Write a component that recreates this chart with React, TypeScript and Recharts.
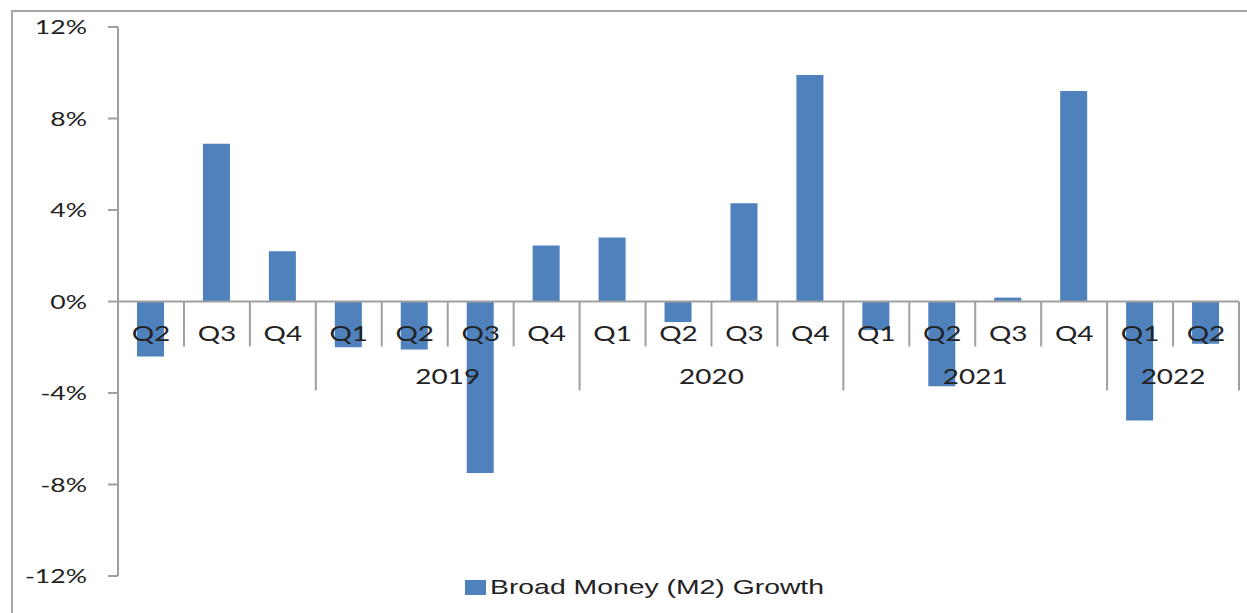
import React from "react";
import { BarChart, Bar, XAxis, YAxis, ReferenceLine, Legend } from "recharts";

const quarters = ["Q2", "Q3", "Q4", "Q1", "Q2", "Q3", "Q4", "Q1", "Q2", "Q3", "Q4", "Q1", "Q2", "Q3", "Q4", "Q1", "Q2"];
const periodYears = [2018, 2018, 2018, 2019, 2019, 2019, 2019, 2020, 2020, 2020, 2020, 2021, 2021, 2021, 2021, 2022, 2022];
const shownYears = [2019, 2020, 2021, 2022];
const m2Growth = [-2.4, 6.9, 2.2, -2.0, -2.1, -7.5, 2.45, 2.8, -0.9, 4.3, 9.9, -1.25, -3.7, 0.17, 9.2, -5.2, -1.85];
const yTicks = [-12, -8, -4, 0, 4, 8, 12];
const seriesName = "Broad Money (M2) Growth";

const data = quarters.map((q, i) => ({ key: `${periodYears[i]}-${q}`, value: m2Growth[i] }));

const AXIS = "#a0a0a0";
const BAR = "#4f81bd";
const TEXT = "#222222";
const STRETCH = 1.33;

function YTick(props: any) {
  const { x, y, payload } = props;
  return (
    <text
      transform={`translate(${x},${y}) scale(${STRETCH},1)`}
      textAnchor="end"
      dy="0.35em"
      fontFamily="Lato"
      fontSize={20}
      fill={TEXT}
    >
      {`${payload.value}%`}
    </text>
  );
}

// draws the category axis (quarters + years) hanging off the zero line
function CategoryAxis(props: any) {
  const { x, y, width } = props.viewBox;
  const band = width / quarters.length;
  const marks: React.ReactNode[] = [];

  for (let i = 1; i <= quarters.length; i++) {
    const isYearEdge = i === quarters.length || periodYears[i] !== periodYears[i - 1];
    const bx = x + i * band;
    marks.push(
      <line key={`t${i}`} x1={bx} x2={bx} y1={y} y2={y + (isYearEdge ? 89 : 45)} stroke={AXIS} strokeWidth={2} />
    );
  }

  quarters.forEach((q, i) => {
    marks.push(
      <text
        key={`q${i}`}
        transform={`translate(${x + (i + 0.5) * band},${y + 39}) scale(${STRETCH},1)`}
        textAnchor="middle"
        fontFamily="Lato"
        fontSize={21}
        fill={TEXT}
      >
        {q}
      </text>
    );
  });

  shownYears.forEach((yr) => {
    const first = periodYears.indexOf(yr);
    const last = periodYears.lastIndexOf(yr);
    const cx = x + ((first + last + 1) / 2) * band;
    marks.push(
      <text
        key={`y${yr}`}
        transform={`translate(${cx},${y + 82}) scale(${STRETCH},1)`}
        textAnchor="middle"
        fontFamily="Lato"
        fontSize={21}
        fill={TEXT}
      >
        {yr}
      </text>
    );
  });

  return <g>{marks}</g>;
}

function LegendContent() {
  return (
    <div style={{ position: "relative", height: 30 }}>
      <div style={{ position: "absolute", left: 465, top: 4, width: 21, height: 15, background: BAR }} />
      <div
        style={{
          position: "absolute",
          left: 490,
          top: -1,
          fontFamily: "Liberation Sans",
          fontSize: 21,
          color: TEXT,
          whiteSpace: "nowrap",
          transform: "scaleX(1.35)",
          transformOrigin: "left center",
        }}
      >
        {seriesName}
      </div>
    </div>
  );
}

export default function App() {
  return (
    <div style={{ position: "fixed", left: 0, top: 0, width: 1247, height: 613, overflow: "hidden", background: "#fff" }}>
      <div
        style={{
          position: "absolute",
          left: 11,
          top: 10,
          width: 1260,
          height: 640,
          border: "2px solid #a6a6a6",
          boxSizing: "border-box",
        }}
      />
      <div style={{ position: "absolute", left: 0, top: 0 }}>
        <BarChart width={1247} height={613} data={data} margin={{ top: 27, right: 8, left: 0, bottom: 7 }}>
          <XAxis dataKey="key" hide />
          <YAxis
            domain={[-12, 12]}
            ticks={yTicks}
            width={118}
            tickSize={10}
            tickMargin={21}
            axisLine={{ stroke: AXIS, strokeWidth: 2 }}
            tickLine={{ stroke: AXIS, strokeWidth: 2 }}
            tick={<YTick />}
            interval={0}
          />
          <Bar dataKey="value" name={seriesName} fill={BAR} barSize={27} isAnimationActive={false} />
          <ReferenceLine y={0} stroke={AXIS} strokeWidth={2} label={<CategoryAxis />} />
          <Legend verticalAlign="bottom" height={30} content={<LegendContent />} wrapperStyle={{ left: 0, width: 1247 }} />
        </BarChart>
      </div>
    </div>
  );
}
